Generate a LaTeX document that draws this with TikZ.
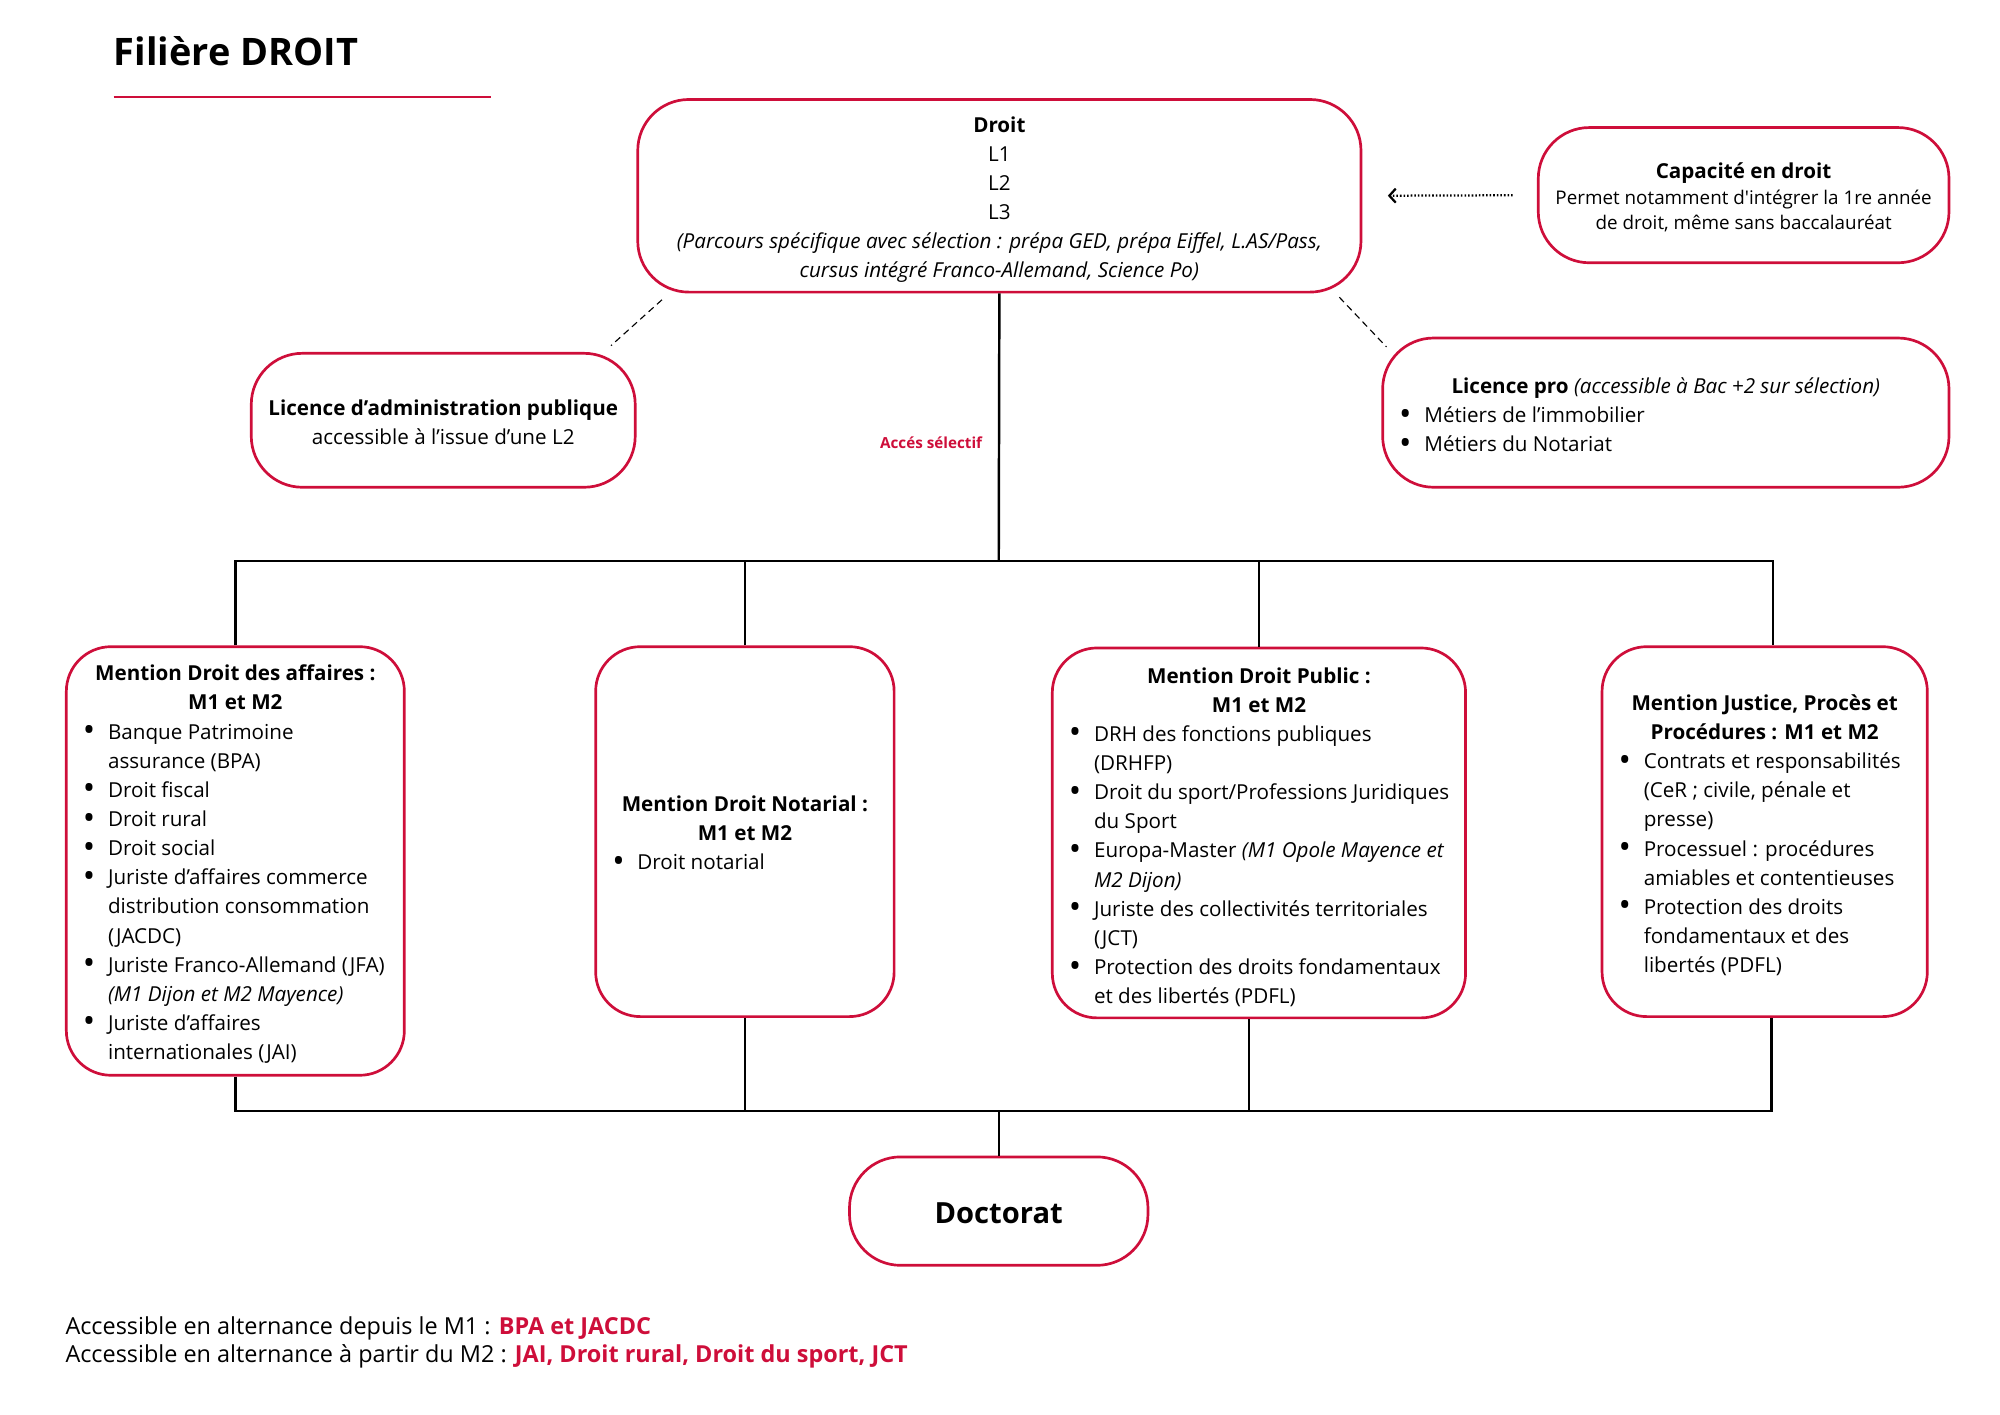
\documentclass[tikz,border=0pt]{standalone}
\usepackage{fontspec}
\setmainfont{Open Sans}
\usetikzlibrary{arrows.meta}

\definecolor{droitred}{RGB}{206,14,58}
\newcommand{\corps}{\fontsize{9.2}{13}\selectfont}
\newcommand{\puce}{\raisebox{-0.12em}{\scalebox{1.6}{\textbullet}}}
\newcommand{\puces}[1]{\begin{tabular}[t]{@{\hspace{2.6mm}}c@{\hspace{2mm}}l@{}}#1\end{tabular}}

\begin{document}
\begin{tikzpicture}[x=0.2mm, y=-0.2mm,
    redbox/.style={draw=droitred, line width=1.2pt, rounded corners=8mm, inner sep=0pt, font=\corps},
    treeline/.style={line width=1.1pt},
    sidelink/.style={densely dashed, line width=0.5pt}]
\useasboundingbox (0,0) rectangle (1568,1108.6);

    % Title
    \node[anchor=base west, inner sep=0pt, font=\fontsize{16.9}{20}\selectfont\bfseries] (titre) at (89,51) {Filière DROIT};
    \draw[droitred, line width=1.2pt] (89,76) -- (385,76);

    % Licence
    \node[redbox, align=center, minimum width=113.4mm, minimum height=30.2mm] (droit) at (783.5,153.5)
        {\rule{0pt}{10.4pt}\textbf{Droit}\\L1\\L2\\L3\\
         \textit{(Parcours spécifique avec sélection : prépa GED, prépa Eiffel, L.AS/Pass,}\\
         \textit{cursus intégré Franco-Allemand, Science Po)}};

    % Capacite
    \node[redbox, align=center, minimum width=64.4mm, minimum height=21.2mm, font=\fontsize{8.4}{11.5}\selectfont] (cap) at (1367,153)
        {{\fontsize{9.2}{11.5}\selectfont\bfseries\rule{0pt}{9pt}Capacité en droit}\\
         Permet notamment d\textquotesingle intégrer la 1re année\\
         de droit, même sans baccalauréat};

    % Side licences
    \node[redbox, align=center, minimum width=60.2mm, minimum height=21mm] (ladm) at (347.5,329.5)
        {\rule{0pt}{9pt}\textbf{Licence d’administration publique}\\accessible à l’issue d’une L2};
    \node[redbox, minimum width=88.8mm, minimum height=23.4mm] (lpro) at (1306,323.5)
        {\begin{minipage}{88.8mm}\vspace*{2mm}\centering\textbf{Licence pro} \textit{(accessible à Bac +2 sur sélection)}\par
         \raggedright\puces{\puce & Métiers de l’immobilier\\
                            \puce & Métiers du Notariat}\end{minipage}};

    \node[inner sep=0pt, text=droitred, font=\fontsize{6.8}{8}\selectfont\bfseries] (acces) at (730,347) {Accés sélectif};

    % Mentions
    \node[redbox, rounded corners=7mm, minimum width=53mm, minimum height=67.2mm] (m1) at (184.5,675)
        {\begin{minipage}{53mm}\vspace*{1.8mm}\centering\bfseries Mention Droit des affaires :\\ M1 et M2\par
         \mdseries\raggedright\puces{%
            \puce & Banque Patrimoine\\
                  & assurance (BPA)\\
            \puce & Droit fiscal\\
            \puce & Droit rural\\
            \puce & Droit social\\
            \puce & Juriste d’affaires commerce\\
                  & distribution consommation\\
                  & (JACDC)\\
            \puce & Juriste Franco-Allemand (JFA)\\
                  & \textit{(M1 Dijon et M2 Mayence)}\\
            \puce & Juriste d’affaires\\
                  & internationales (JAI)}\end{minipage}};

    \node[redbox, rounded corners=7mm, minimum width=46.8mm, minimum height=58mm] (m2) at (584,652)
        {\begin{minipage}{46.8mm}\vspace*{1.8mm}\centering\bfseries Mention Droit Notarial :\\ M1 et M2\par
         \mdseries\raggedright\puces{\puce & Droit notarial}\end{minipage}};

    \node[redbox, rounded corners=7mm, minimum width=64.8mm, minimum height=58mm] (m3) at (987,653)
        {\begin{minipage}{64.8mm}\vspace*{2.2mm}\centering\bfseries Mention Droit Public :\\ M1 et M2\par
         \mdseries\raggedright\puces{%
            \puce & DRH des fonctions publiques\\
                  & (DRHFP)\\
            \puce & Droit du sport/Professions Juridiques\\
                  & du Sport\\
            \puce & Europa-Master \textit{(M1 Opole Mayence et}\\
                  & \textit{M2 Dijon)}\\
            \puce & Juriste des collectivités territoriales\\
                  & (JCT)\\
            \puce & Protection des droits fondamentaux\\
                  & et des libertés (PDFL)}\end{minipage}};

    \node[redbox, rounded corners=7mm, minimum width=51mm, minimum height=58mm] (m4) at (1383.5,652)
        {\begin{minipage}{51mm}\vspace*{2mm}\centering\bfseries Mention Justice, Procès et\\ Procédures : M1 et M2\par
         \mdseries\raggedright\puces{%
            \puce & Contrats et responsabilités\\
                  & (CeR ; civile, pénale et\\
                  & presse)\\
            \puce & Processuel : procédures\\
                  & amiables et contentieuses\\
            \puce & Protection des droits\\
                  & fondamentaux et des\\
                  & libertés (PDFL)}\end{minipage}};

    % Doctorat
    \node[redbox, minimum width=46.8mm, minimum height=17mm, font=\fontsize{13}{16}\selectfont\bfseries] (doc) at (783,949.5) {\rule{0pt}{11pt}Doctorat};

    % Tree
    \coordinate (haut) at (783,440);
    \coordinate (bas) at (783,871);
    \draw[treeline] (droit.south) -- (haut);
    \draw[treeline] (m1.north) |- (haut) -| ([shift={(6.5,0)}]m4.north);
    \draw[treeline] (m2.north) -- (m2.north |- haut);
    \draw[treeline] (m3.north) -- (m3.north |- haut);
    \draw[treeline] (m1.south) |- (bas) -| ([shift={(5.5,0)}]m4.south);
    \draw[treeline] (m2.south) -- (m2.south |- bas);
    \draw[treeline] ([shift={(-8,0)}]m3.south) -- ([shift={(-8,0)}]m3.south |- bas);
    \draw[treeline] (bas) -- (doc.north);

    % Side links
    \draw[sidelink] ([shift={(20,5)}]droit.south west) -- ([shift={(-20,-5)}]ladm.north east);
    \draw[sidelink] ([shift={(-18,3)}]droit.south east) -- ([shift={(4,8)}]lpro.north west);
    \draw[line width=1pt, dash pattern=on 0.7pt off 0.9pt, -{Straight Barb[length=1mm, width=2.2mm]},
          shorten <=3.8mm, shorten >=4mm] (cap.west) -- (droit.east);

    % Alternance
    \node[anchor=base west, inner sep=0pt, font=\fontsize{10.45}{12.5}\selectfont] (alt1) at (51,1046)
        {Accessible en alternance depuis le M1 : \textcolor{droitred}{\bfseries BPA et JACDC}};
    \node[anchor=base west, inner sep=0pt, font=\fontsize{10.45}{12.5}\selectfont] (alt2) at (51,1068)
        {Accessible en alternance à partir du M2 : \textcolor{droitred}{\bfseries JAI, Droit rural, Droit du sport, JCT}};

\end{tikzpicture}
\end{document}
